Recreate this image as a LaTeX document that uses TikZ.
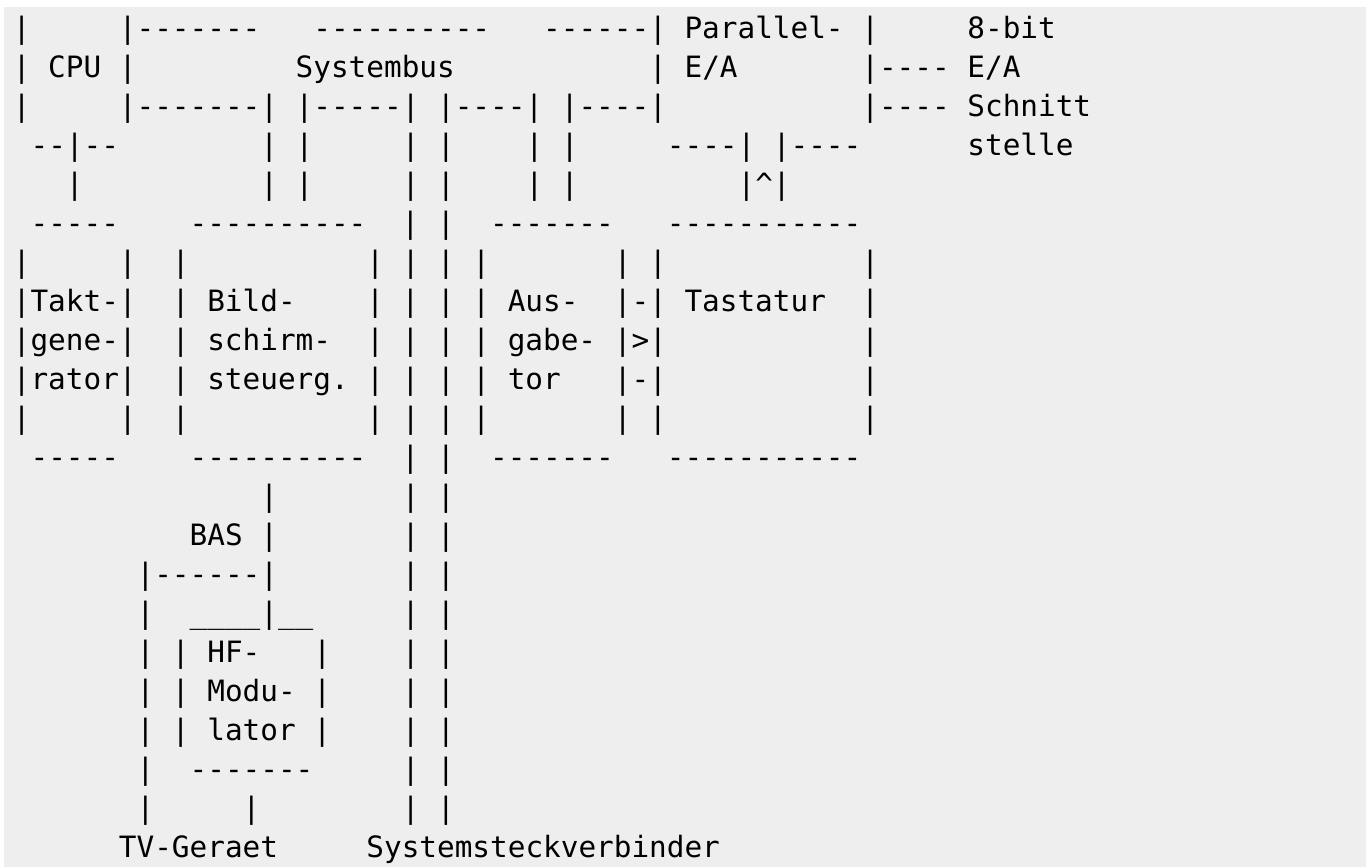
\documentclass[tikz,border=0pt]{standalone}
\usepackage{xcolor}
\usepackage{fontspec}
\setmonofont{DejaVu Sans Mono}
\usepackage{tikz}

\definecolor{pagegray}{HTML}{EEEEEE}

\begin{document}
\frenchspacing
\begin{tikzpicture}[x=0.5pt, y=-0.5pt,
    ascii/.style={anchor=base west, inner sep=0pt, outer sep=0pt,
        font=\ttfamily\fontsize{14.68pt}{19.5pt}\selectfont}]
    \useasboundingbox (0,0) rectangle (1368,867);
    \fill[pagegray] (4,7) rectangle (1366,867);
    % one node per line of the block diagram, 39px apart
    \node[ascii] (l1)  at (12.9,38)  {|~~~~~|-------~~~----------~~~------|~Parallel-~|~~~~~8-bit};
    \node[ascii] (l2)  at (12.9,77)  {|~CPU~|~~~~~~~~~Systembus~~~~~~~~~~~|~E/A~~~~~~~|----~E/A};
    \node[ascii] (l3)  at (12.9,116) {|~~~~~|-------|~|-----|~|----|~|----|~~~~~~~~~~~|----~Schnitt};
    \node[ascii] (l4)  at (12.9,155) {~--|--~~~~~~~~|~|~~~~~|~|~~~~|~|~~~~~----|~|----~~~~~~stelle};
    \node[ascii] (l5)  at (12.9,194) {~~~|~~~~~~~~~~|~|~~~~~|~|~~~~|~|~~~~~~~~~|\textasciicircum|};
    \node[ascii] (l6)  at (12.9,233) {~-----~~~~----------~~|~|~~-------~~~-----------};
    \node[ascii] (l7)  at (12.9,272) {|~~~~~|~~|~~~~~~~~~~|~|~|~|~~~~~~~|~|~~~~~~~~~~~|};
    \node[ascii] (l8)  at (12.9,311) {|Takt-|~~|~Bild-~~~~|~|~|~|~Aus-~~|-|~Tastatur~~|};
    \node[ascii] (l9)  at (12.9,350) {|gene-|~~|~schirm-~~|~|~|~|~gabe-~|>|~~~~~~~~~~~|};
    \node[ascii] (l10) at (12.9,389) {|rator|~~|~steuerg.~|~|~|~|~tor~~~|-|~~~~~~~~~~~|};
    \node[ascii] (l11) at (12.9,428) {|~~~~~|~~|~~~~~~~~~~|~|~|~|~~~~~~~|~|~~~~~~~~~~~|};
    \node[ascii] (l12) at (12.9,467) {~-----~~~~----------~~|~|~~-------~~~-----------};
    \node[ascii] (l13) at (12.9,506) {~~~~~~~~~~~~~~|~~~~~~~|~|};
    \node[ascii] (l14) at (12.9,545) {~~~~~~~~~~BAS~|~~~~~~~|~|};
    \node[ascii] (l15) at (12.9,584) {~~~~~~~|------|~~~~~~~|~|};
    \node[ascii] (l16) at (12.9,623) {~~~~~~~|~~\_\_\_\_|\_\_~~~~~|~|};
    \node[ascii] (l17) at (12.9,662) {~~~~~~~|~|~HF-~~~|~~~~|~|};
    \node[ascii] (l18) at (12.9,701) {~~~~~~~|~|~Modu-~|~~~~|~|};
    \node[ascii] (l19) at (12.9,740) {~~~~~~~|~|~lator~|~~~~|~|};
    \node[ascii] (l20) at (12.9,779) {~~~~~~~|~~-------~~~~~|~|};
    \node[ascii] (l21) at (12.9,818) {~~~~~~~|~~~~~|~~~~~~~~|~|};
    \node[ascii] (l22) at (12.9,857) {~~~~~~TV-Geraet~~~~~Systemsteckverbinder};
\end{tikzpicture}
\end{document}
